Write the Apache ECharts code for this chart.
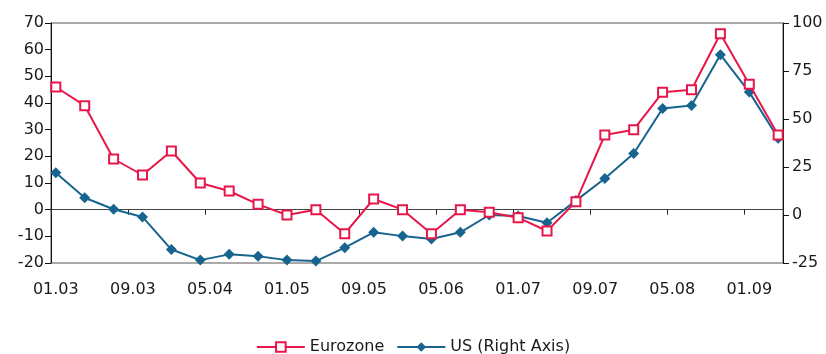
<!DOCTYPE html>
<html>
<head>
<meta charset="utf-8">
<script src="https://cdn.jsdelivr.net/npm/echarts@6/dist/echarts.min.js"></script>
<style>html,body{margin:0;padding:0;background:#fff;}#c{width:826px;height:354px;}</style>
</head>
<body>
<div id="c"></div>
<script>
// Quarterly observation dates (MM.YY)
var quarters = ['01.03','04.03','07.03','10.03','01.04','04.04','07.04','10.04','01.05','04.05','07.05','10.05','01.06','04.06','07.06','10.06','01.07','04.07','07.07','10.07','01.08','04.08','07.08','10.08','01.09','04.09'];
var eurozone = [46,39,19,13,22,10,7,2,-2,0,-9,4,0,-9,0,-1,-3,-8,3,28,30,44,45,66,47,28];
var us = [22,9,3,-1,-18,-23.5,-20.5,-21.5,-23.5,-24,-17,-9,-11,-12.5,-9,0,-0.5,-4,7.5,19,32,55.5,57,83.5,64,40];
var tickLabels = ['01.03','09.03','05.04','01.05','09.05','05.06','01.07','09.07','05.08','01.09'];
// monthly category axis from 01.03 to 04.09
var startYear = 3, startMonth = 1, monthCount = 76;
var months = [];
for (var k = 0; k < monthCount; k++) {
  var m = (startMonth - 1 + k) % 12 + 1;
  var y = startYear + Math.floor((startMonth - 1 + k) / 12);
  months.push((m < 10 ? '0' : '') + m + '.' + (y < 10 ? '0' : '') + y);
}
var showTick = function (idx, val) { return tickLabels.indexOf(val) >= 0; };
var font = 'DejaVu Sans, Verdana, sans-serif';
var chart = echarts.init(document.getElementById('c'));
chart.setOption({
  animation: false,
  textStyle: { fontFamily: font },
  grid: { left: 51, right: 43, top: 23, bottom: 91, show: true, borderColor: '#555', borderWidth: 1 },
  legend: {
    top: 334, left: 'center', itemWidth: 48, itemHeight: 12, itemGap: 12,
    textStyle: { fontSize: 16, color: '#1a1a1a', fontFamily: font },
    data: ['Eurozone', 'US (Right Axis)']
  },
  xAxis: {
    type: 'category', data: months, boundaryGap: true,
    axisLine: { onZero: true, lineStyle: { color: '#444', width: 1 } },
    axisTick: { show: true, interval: showTick, length: 5, lineStyle: { color: '#222' } },
    axisLabel: { interval: showTick, margin: 19, fontSize: 16, color: '#1a1a1a', fontFamily: font },
    splitLine: { show: false }
  },
  yAxis: [
    {
      type: 'value', min: -20, max: 70, interval: 10,
      axisLine: { show: true, onZero: false, lineStyle: { color: '#111', width: 1 } },
      axisTick: { show: true, length: 6, lineStyle: { color: '#111' } },
      axisLabel: { fontSize: 16, color: '#1a1a1a', margin: 7, fontFamily: font },
      splitLine: { show: false }
    },
    {
      type: 'value', min: -25, max: 100, interval: 25, position: 'right',
      axisLine: { show: true, onZero: false, lineStyle: { color: '#111', width: 1 } },
      axisTick: { show: true, length: 6, lineStyle: { color: '#111' } },
      axisLabel: { fontSize: 16, color: '#1a1a1a', margin: 9, fontFamily: font },
      splitLine: { show: false }
    }
  ],
  series: [
    {
      name: 'Eurozone', type: 'line', yAxisIndex: 0,
      data: quarters.map(function (q, i) { return [q, eurozone[i]]; }),
      symbol: 'rect', symbolSize: 9, showAllSymbol: true,
      lineStyle: { color: '#E8174B', width: 2 },
      itemStyle: { color: '#fff', borderColor: '#E8174B', borderWidth: 2 },
      z: 3
    },
    {
      name: 'US (Right Axis)', type: 'line', yAxisIndex: 1,
      data: quarters.map(function (q, i) { return [q, us[i]]; }),
      symbol: 'diamond', symbolSize: 11, showAllSymbol: true,
      lineStyle: { color: '#17648F', width: 2 },
      itemStyle: { color: '#17648F', borderColor: '#17648F', borderWidth: 0 },
      z: 2
    }
  ]
});
</script>
</body>
</html>
